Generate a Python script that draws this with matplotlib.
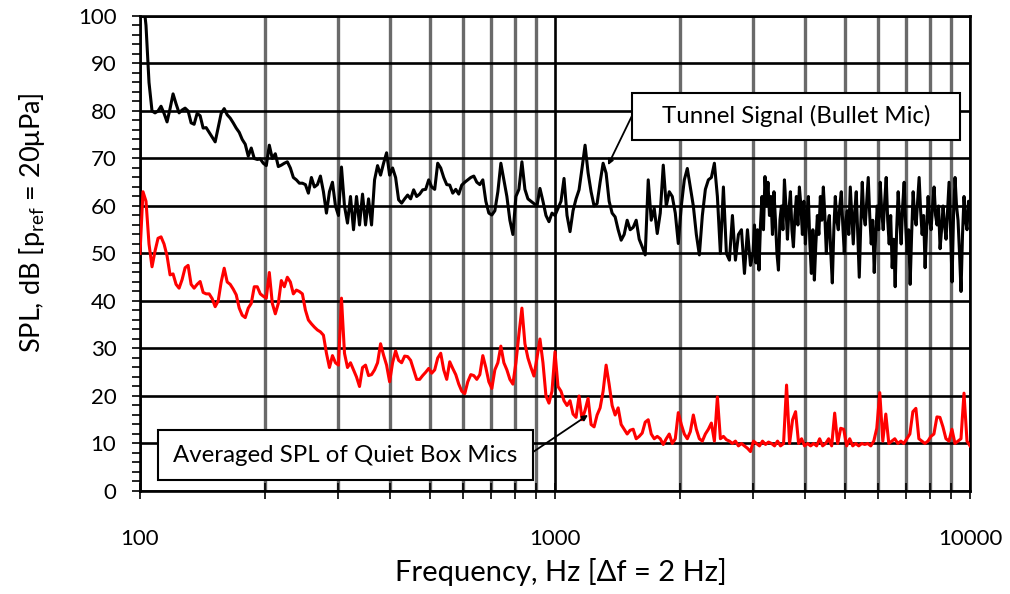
import matplotlib
matplotlib.use('Agg')
import matplotlib.pyplot as plt
import numpy as np
from matplotlib.patches import Rectangle
from matplotlib.ticker import FixedLocator, MultipleLocator, NullFormatter

plt.rcParams['font.family'] = ['Lato', 'DejaVu Sans']
plt.rcParams['mathtext.fontset'] = 'custom'
plt.rcParams['mathtext.rm'] = 'Lato'

# SPL readings (dB) at evenly spaced columns on the log axis.
# tunnel signal: 100 Hz -> ~3 kHz at a coarse step, then 3 kHz -> 10 kHz at a finer step
tunnel_spl_lo = [
    104, 104, 98, 86, 80, 79.6, 80, 81, 79.5, 77.7,
    80.5, 83.6, 81.5, 79.6, 80.2, 80.6, 80, 77.5, 77.2, 79.5,
    79, 76.4, 76.5, 75.5, 74.5, 73.5, 76.5, 79.5, 80.5, 79.2,
    78.5, 77.5, 76.4, 75.5, 74, 73, 70.5, 72.2, 70, 69.8,
    69.9, 69, 68.5, 72.8, 70, 71, 68.3, 68.6, 69, 69.3,
    68, 66, 65.5, 64.8, 64.8, 64.5, 62.7, 66, 64, 64.5,
    66.3, 63, 58.5, 63, 65, 60, 58, 68.2, 60, 56.4,
    62, 55, 62, 56, 62.5, 56, 61.5, 56, 65.5, 68.5,
    66.5, 69, 71.2, 66.5, 68, 66, 61.3, 60.6, 61.5, 62.3,
    61.5, 63.4, 62, 62.5, 63.4, 63.5, 65.5, 64, 63.5, 69,
    68, 66, 64.5, 64.4, 62.7, 63.5, 62.5, 64.4, 65, 65.5,
    66, 66.3, 65, 64.5, 65.5, 61, 58.5, 58.1, 59, 63,
    69, 65.5, 62, 57, 54, 62, 63.5, 69.3, 63.5, 61.5,
    61, 60.5, 60, 63.7, 61, 58, 56.7, 58.5, 58, 59.5,
    61, 65.8, 58, 54.6, 59, 61.5, 63.4, 68, 72.8, 67,
    63, 60, 60.5, 65, 69, 66.9, 61, 58.5, 57.7, 55,
    52.8, 54, 57, 55, 55.5, 57, 53, 51.4, 49.7, 65.5,
    57, 59.5, 54.2, 58.5, 68.6, 60, 63, 62, 58.5, 52.1,
    60, 65.5, 67.9, 64, 60, 54, 49.7, 58, 63.5, 65.5,
    66, 69, 62, 50, 64, 50, 48.6, 58, 48.6, 54,
    55, 45.8, 55, 47.5,
]

tunnel_spl_hi = [
    50, 56, 48, 55, 46.5, 56, 62, 55, 66.2, 60,
    65, 58, 62, 54, 63, 57, 50, 46.5, 57, 60,
    55, 65.5, 60, 53, 59, 63, 55, 51.4, 58, 62,
    56, 64, 60, 54, 61, 52, 58, 62, 52, 45.8,
    55, 44.4, 52, 58, 54, 62, 57, 64, 58, 50,
    56, 58, 50, 43.8, 55, 62, 57, 55, 60, 63,
    56, 50, 57, 59, 54, 64, 58, 52, 59, 63,
    54, 45, 56, 65, 58, 56, 61, 66, 58, 52,
    57, 46, 54, 60, 55, 65, 59, 55, 61, 66,
    57, 52, 58, 47, 53, 43, 55, 63, 57, 52,
    60, 65, 56, 50, 55, 43.5, 54, 63, 58, 56,
    61, 66, 59, 54, 58, 47, 55, 62, 57, 55,
    60, 64, 58, 56, 60, 51, 55, 60, 56, 53,
    59, 65, 55, 44, 58, 66, 60, 57, 50, 42,
    54, 62, 57, 55, 61, 60,
]

# quiet box average: 100 Hz -> 10 kHz, same coarse step
quiet_box_spl = [
    50, 63, 61, 52, 47.2, 50.5, 53.2, 53.5, 52, 49.5,
    45.5, 45.7, 43.5, 42.7, 44.5, 47, 47.5, 43.5, 42.7, 43.5,
    44.1, 41.8, 41.5, 41.5, 40.5, 38.8, 40, 44, 46.9, 44,
    43.5, 42.5, 41.3, 38.5, 37, 36.5, 38.5, 39.5, 43, 43,
    41.5, 41, 40.6, 46, 39.5, 37.3, 39.5, 44.3, 43, 45,
    44, 41.5, 42.3, 42, 41.5, 38.1, 36, 35.2, 34.5, 33.9,
    33.5, 32.8, 29, 26, 28.5, 27, 26.5, 40.6, 29, 26,
    27, 25.5, 24, 22, 26, 26.5, 24.3, 24.5, 25.5, 27,
    31, 28.6, 26.5, 23, 27, 29.5, 27.5, 27, 28.4, 28.3,
    27.5, 25.5, 23.5, 23.5, 24.3, 25, 25.8, 24.8, 25.5, 28,
    29, 25.5, 23.5, 27.2, 25.8, 24.5, 22.5, 21, 20.5, 23,
    24.5, 24.3, 23.5, 24.5, 28.5, 26, 23, 21.6, 25.5, 27,
    30.5, 27, 25.5, 23.5, 22.5, 27, 33, 38.5, 31, 28,
    26, 24.2, 28, 32, 27, 20, 18.5, 21, 29.3, 22,
    21, 19, 18, 19, 16.2, 15.5, 20, 15, 17, 19.5,
    14, 13.5, 16, 17.5, 21, 26.5, 22.5, 18, 16, 17.5,
    14, 13, 12, 12.8, 13, 11, 11.5, 12.2, 14.5, 15,
    12, 11, 11.5, 11, 9.8, 11, 12, 10, 11, 16.5,
    14, 12, 11, 12.5, 16, 13, 11, 10.5, 12, 13,
    14.3, 10.5, 19.8, 11, 11.5, 10.8, 10.5, 10, 10.5, 9.5,
    10, 9.5, 9, 8.3, 10.5, 10, 9.5, 10.5, 9.8, 10.3,
    10, 9.5, 10.5, 9.5, 10, 22.3, 10, 15, 16.7, 10,
    11, 9.5, 10, 9.5, 10, 9.5, 11, 9.5, 10, 11,
    9.5, 16.4, 10, 13.2, 13, 9.5, 11, 9.5, 10, 9.5,
    10, 9.8, 10, 9.5, 10.5, 13.2, 20.7, 10.5, 16.2, 10,
    10.5, 11, 10, 10.5, 10, 11, 12, 16.7, 17.4, 11,
    10.5, 10, 10.5, 11.5, 12, 15.6, 15.5, 13.5, 11, 10.5,
    13, 10, 10.5, 11, 20.6, 10.5, 9.5,
]

freq_coarse = np.geomspace(100, 10000, len(quiet_box_spl))
freq_tunnel = np.concatenate([freq_coarse[:len(tunnel_spl_lo)],
                              np.geomspace(3000, 10000, len(tunnel_spl_hi))])
tunnel_spl = tunnel_spl_lo + tunnel_spl_hi

minor_freqs = [200, 300, 400, 500, 600, 700, 800, 900,
               2000, 3000, 4000, 5000, 6000, 7000, 8000, 9000]

fig = plt.figure(figsize=(10.1, 5.94), dpi=100)
ax = fig.add_axes([0.1386, 0.1734, 0.8218, 0.7997])

ax.plot(freq_tunnel, tunnel_spl, color='black', lw=2.2, zorder=3)
ax.plot(freq_coarse, quiet_box_spl, color='red', lw=2.2, zorder=3)

ax.set_xscale('log')
ax.set_xlim(100, 10000)
ax.set_ylim(0, 100)

ax.xaxis.set_major_locator(FixedLocator([100, 1000, 10000]))
ax.xaxis.set_minor_locator(FixedLocator(minor_freqs))
ax.xaxis.set_minor_formatter(NullFormatter())
ax.set_xticklabels(['100', '1000', '10000'])
ax.yaxis.set_major_locator(MultipleLocator(10))
ax.yaxis.set_minor_locator(MultipleLocator(2))

ax.set_axisbelow(True)
ax.grid(True, which='major', axis='both', color='black', lw=1.9)
ax.grid(True, which='minor', axis='x', color='#6a6a6a', lw=2.4)

ax.tick_params(axis='x', which='both', direction='inout', length=12, width=1.2,
               pad=21, labelsize=16)
ax.tick_params(axis='y', which='both', direction='out', length=6, width=1.2,
               labelsize=16, pad=11)
for s in ax.spines.values():
    s.set_linewidth(1.9)

ax.set_xlabel('Frequency, Hz [Δf = 2 Hz]', fontsize=21)
ax.set_ylabel(r'SPL, dB [p$_\mathregular{ref}$ = 20μPa]', fontsize=19.5)
ax.xaxis.set_label_coords(0.507, -0.14)
ax.yaxis.set_label_coords(-0.112, 0.564)

# label boxes
ax.add_patch(Rectangle((0.5928, 0.739), 0.3952, 0.099, transform=ax.transAxes,
                       facecolor='white', edgecolor='black', lw=1.5, zorder=5, clip_on=False))
ax.text(0.7904, 0.7885, 'Tunnel Signal (Bullet Mic)', transform=ax.transAxes,
        ha='center', va='center', fontsize=17.3, zorder=6)
ax.add_patch(Rectangle((0.0217, 0.023), 0.4518, 0.105, transform=ax.transAxes,
                       facecolor='white', edgecolor='black', lw=1.5, zorder=5, clip_on=False))
ax.text(0.2476, 0.0755, 'Averaged SPL of Quiet Box Mics', transform=ax.transAxes,
        ha='center', va='center', fontsize=17.3, zorder=6)

ax.annotate('', xy=(1342, 68.6), xycoords='data', xytext=(0.5928, 0.79),
            textcoords='axes fraction',
            arrowprops=dict(arrowstyle='-|>', color='black', lw=1.3, mutation_scale=8,
                            shrinkA=0, shrinkB=0), zorder=6)
ax.annotate('', xy=(1201, 16), xycoords='data', xytext=(0.4735, 0.082),
            textcoords='axes fraction',
            arrowprops=dict(arrowstyle='-|>', color='black', lw=1.3, mutation_scale=8,
                            shrinkA=0, shrinkB=0), zorder=6)

plt.savefig('out.png', dpi=100)
